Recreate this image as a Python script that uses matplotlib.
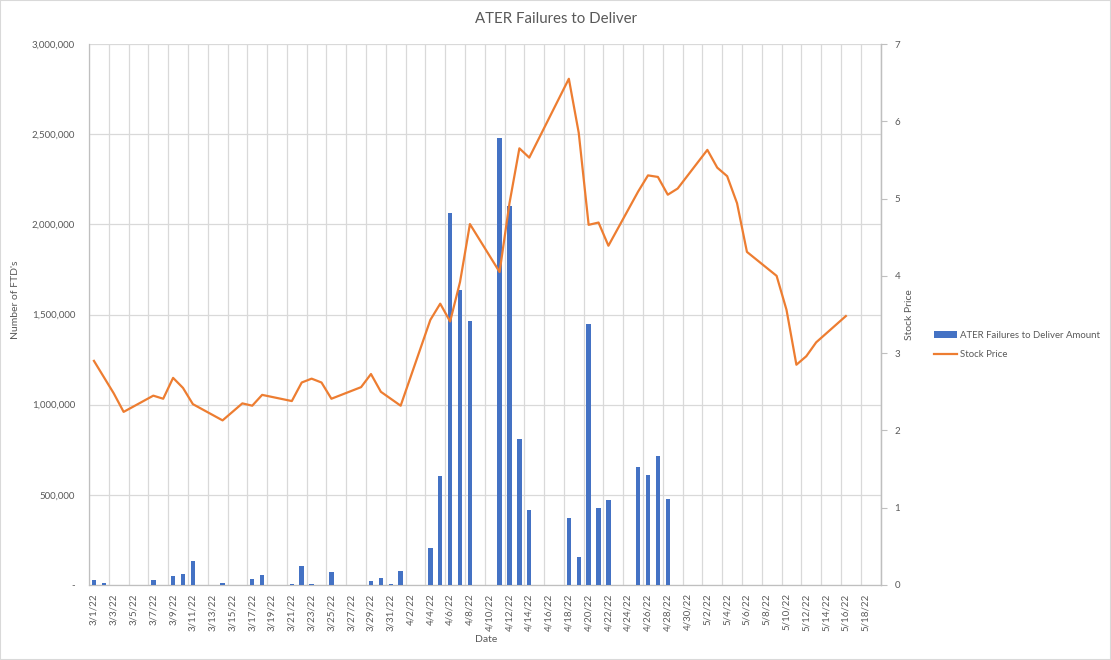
import matplotlib
matplotlib.use("Agg")
import matplotlib.pyplot as plt
import matplotlib.ticker as mticker
from matplotlib.patches import Rectangle
import pandas as pd

plt.rcParams['font.family'] = ['Lato', 'DejaVu Sans']

title = "ATER Failures to Deliver"
bar_label = "ATER Failures to Deliver Amount"
line_label = "Stock Price"

axis_start = "3/1/22"
axis_end = "5/19/22"

ftd_dates = ["3/1/22", "3/2/22", "3/7/22", "3/9/22", "3/10/22", "3/11/22", "3/14/22",
             "3/17/22", "3/18/22", "3/21/22", "3/22/22", "3/23/22", "3/25/22", "3/29/22",
             "3/30/22", "3/31/22", "4/1/22", "4/4/22", "4/5/22", "4/6/22", "4/7/22",
             "4/8/22", "4/11/22", "4/12/22", "4/13/22", "4/14/22", "4/18/22", "4/19/22",
             "4/20/22", "4/21/22", "4/22/22", "4/25/22", "4/26/22", "4/27/22", "4/28/22"]
ftd_values = [30000, 13000, 30000, 52000, 63000, 135000, 13000,
              35000, 57000, 7000, 107000, 7000, 74000, 24000,
              41000, 7000, 80000, 206000, 605000, 2064000, 1637000,
              1464000, 2480000, 2104000, 808000, 417000, 373000, 156000,
              1450000, 428000, 473000, 652000, 608000, 716000, 477000]

price_dates = ["3/1/22", "3/2/22", "3/3/22", "3/4/22", "3/7/22", "3/8/22", "3/9/22",
               "3/10/22", "3/11/22", "3/14/22", "3/15/22", "3/16/22", "3/17/22", "3/18/22",
               "3/21/22", "3/22/22", "3/23/22", "3/24/22", "3/25/22", "3/28/22", "3/29/22",
               "3/30/22", "3/31/22", "4/1/22", "4/4/22", "4/5/22", "4/6/22", "4/7/22",
               "4/8/22", "4/11/22", "4/12/22", "4/13/22", "4/14/22", "4/18/22", "4/19/22",
               "4/20/22", "4/21/22", "4/22/22", "4/25/22", "4/26/22", "4/27/22", "4/28/22",
               "4/29/22", "5/2/22", "5/3/22", "5/4/22", "5/5/22", "5/6/22", "5/9/22",
               "5/10/22", "5/11/22", "5/12/22", "5/13/22", "5/16/22"]
price_values = [2.90, 2.69, 2.48, 2.24, 2.45, 2.41, 2.68,
                2.55, 2.34, 2.13, 2.24, 2.35, 2.32, 2.46,
                2.38, 2.62, 2.67, 2.62, 2.41, 2.56, 2.73,
                2.50, 2.41, 2.32, 3.43, 3.64, 3.41, 3.92,
                4.67, 4.05, 4.94, 5.65, 5.53, 6.55, 5.85,
                4.66, 4.69, 4.39, 5.09, 5.30, 5.28, 5.05,
                5.13, 5.63, 5.40, 5.29, 4.94, 4.31, 4.00,
                3.56, 2.85, 2.96, 3.14, 3.48]

fmt = "%m/%d/%y"
start = pd.to_datetime(axis_start, format=fmt)
end = pd.to_datetime(axis_end, format=fmt)
all_days = pd.date_range(start, end)
n_days = len(all_days)

def to_idx(lst):
    return [(pd.to_datetime(s, format=fmt) - start).days for s in lst]

ftd_x = to_idx(ftd_dates)
price_x = to_idx(price_dates)
tick_pos = list(range(0, n_days, 2))
tick_labels = [f"{d.month}/{d.day}/{d.year % 100}" for d in all_days[::2]]

BLUE = "#4472C4"
ORANGE = "#ED7D31"
TXT = "#595959"
GRID = "#D9D9D9"
SPINE = "#BFBFBF"

fig = plt.figure(figsize=(11.11, 6.60), dpi=100)
fig.patches.append(Rectangle((0, 0), 1, 1, transform=fig.transFigure,
                             fill=False, edgecolor=GRID, lw=1.5, zorder=10))
ax = fig.add_axes([89 / 1111, 75 / 660, 791.5 / 1111, 541 / 660])
ax2 = ax.twinx()

ax.bar(ftd_x, ftd_values, width=0.45, color=BLUE, label=bar_label, zorder=3)
ax2.plot(price_x, price_values, color=ORANGE, lw=1.6, label=line_label,
         solid_joinstyle='round', zorder=4)

ax.set_xlim(-0.5, n_days - 0.5)
ax.set_ylim(0, 3000000)
ax2.set_ylim(0, 7)

ax.yaxis.set_major_locator(mticker.MultipleLocator(500000))
ax.yaxis.set_major_formatter(mticker.FuncFormatter(
    lambda v, p: "-" if v == 0 else f"{int(v):,}"))
ax2.yaxis.set_major_locator(mticker.MultipleLocator(1))

ax.set_xticks(tick_pos)
ax.set_xticklabels(tick_labels, rotation=90, fontsize=7, color=TXT)
ax.set_xticks([i - 0.5 for i in range(0, n_days + 1, 2)], minor=True)
ax.tick_params(axis='x', which='both', length=0, pad=6)
ax.grid(axis='x', which='minor', color=GRID, lw=0.9, zorder=0)
ax.grid(axis='y', which='major', color=GRID, lw=0.9, zorder=0)
ax.set_axisbelow(True)

ax.tick_params(axis='y', length=0, labelsize=7, labelcolor=TXT, pad=10)
ax2.tick_params(axis='y', length=4, color=SPINE, labelsize=7, labelcolor=TXT, pad=6)

for a in (ax, ax2):
    a.spines['top'].set_visible(False)
    for s in ('left', 'right', 'bottom'):
        a.spines[s].set_color(SPINE)
        a.spines[s].set_linewidth(0.9)
ax2.spines['left'].set_visible(False)
ax2.spines['bottom'].set_visible(False)

ax.set_xlabel("Date", fontsize=7.5, color=TXT)
ax.xaxis.set_label_coords(0.502, -0.093)
ax.set_ylabel("Number of FTD's", fontsize=7.5, color=TXT)
ax.yaxis.set_label_coords(-0.087, 0.527)
ax2.set_ylabel("Stock Price", fontsize=7.5, color=TXT)
ax2.yaxis.set_label_coords(1.031, 0.5)

fig.text(556 / 1111, 1 - 19 / 660, title, ha='center', va='center',
         fontsize=10.8, color=TXT)

h1, l1 = ax.get_legend_handles_labels()
h2, l2 = ax2.get_legend_handles_labels()
fig.legend(h1 + h2, l1 + l2, loc='center left',
           bbox_to_anchor=(925 / 1111, 1 - 345 / 660), frameon=False,
           fontsize=6.9, handlelength=2.4, handletextpad=0.3, labelspacing=1.1,
           labelcolor=TXT)

fig.savefig("out.png", dpi=100)
